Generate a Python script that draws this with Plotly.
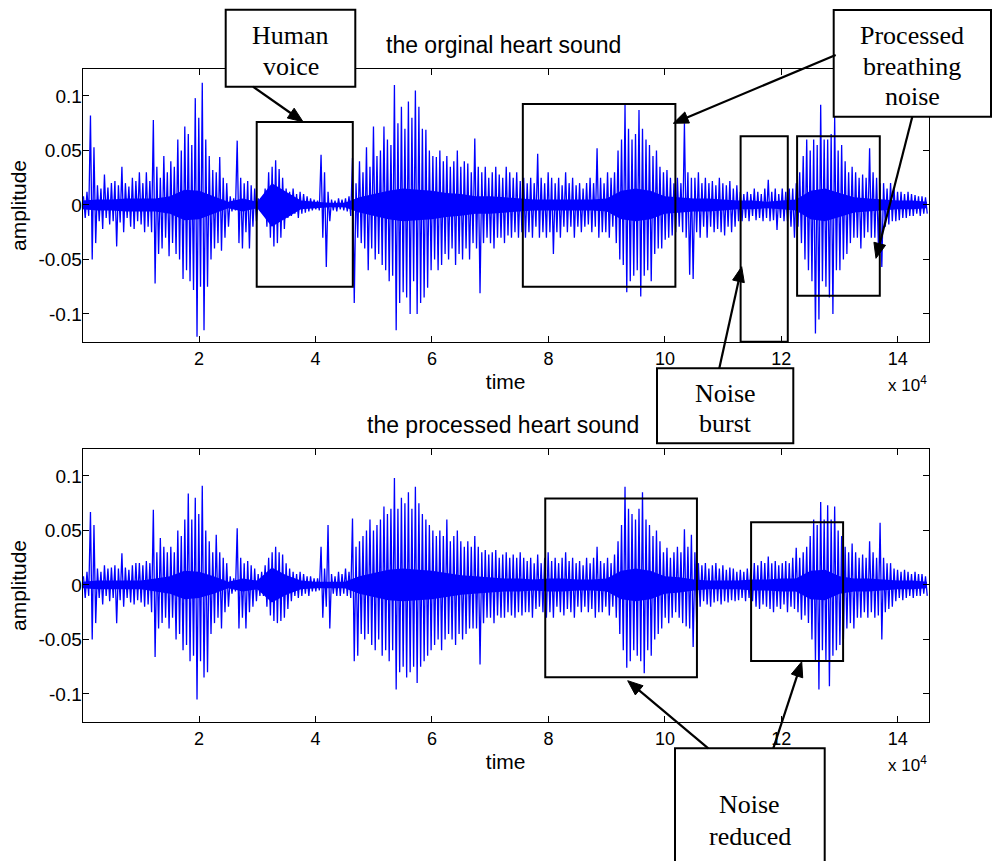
import numpy as np
import plotly.graph_objects as go

W, H = 992, 861
STEP = 600        # samples represented by one column of the waveform (max / min)
CORE_STEP = 2500  # samples between readings of the dense core band

# ---- original heart sound: per-column maxima and minima ----
orig_hi = [
    0.008, 0.012, 0.082, 0.053, 0.018, 0.015, 0.028, 0.016, 0.020, 0.022,
    0.018, 0.035, 0.020, 0.017, 0.025, 0.022, 0.030, 0.020, 0.030, 0.022,
    0.078, 0.035, 0.025, 0.045, 0.030, 0.040, 0.035, 0.060, 0.050, 0.072,
    0.065, 0.055, 0.098, 0.080, 0.112, 0.060, 0.045, 0.032, 0.030, 0.044,
    0.025, 0.020, 0.008, 0.006, 0.059, 0.025, 0.020, 0.022, 0.018, 0.015,
    0.006, 0.005, 0.015, 0.030, 0.035, 0.041, 0.033, 0.025, 0.015, 0.012,
    0.015, 0.010, 0.012, 0.010, 0.008, 0.006, 0.005, 0.004, 0.046, 0.030,
    0.012, 0.005, 0.004, 0.006, 0.005, 0.006, 0.008, 0.043, 0.020, 0.040,
    0.030, 0.053, 0.035, 0.072, 0.045, 0.050, 0.072, 0.060, 0.055, 0.110,
    0.075, 0.090, 0.070, 0.095, 0.080, 0.105, 0.090, 0.070, 0.069, 0.050,
    0.045, 0.044, 0.050, 0.040, 0.045, 0.035, 0.040, 0.050, 0.035, 0.040,
    0.038, 0.030, 0.061, 0.035, 0.030, 0.035, 0.025, 0.030, 0.035, 0.028,
    0.025, 0.035, 0.030, 0.025, 0.030, 0.022, 0.025, 0.020, 0.025, 0.020,
    0.047, 0.025, 0.020, 0.030, 0.025, 0.020, 0.025, 0.018, 0.030, 0.020,
    0.025, 0.018, 0.020, 0.015, 0.020, 0.025, 0.020, 0.052, 0.025, 0.020,
    0.030, 0.025, 0.030, 0.050, 0.060, 0.092, 0.070, 0.060, 0.065, 0.087,
    0.070, 0.060, 0.055, 0.045, 0.050, 0.035, 0.030, 0.032, 0.025, 0.020,
    0.025, 0.020, 0.075, 0.030, 0.025, 0.025, 0.030, 0.020, 0.025, 0.020,
    0.022, 0.018, 0.025, 0.020, 0.018, 0.022, 0.015, 0.018, 0.012, 0.010,
    0.012, 0.010, 0.015, 0.012, 0.010, 0.015, 0.023, 0.012, 0.015, 0.010,
    0.015, 0.012, 0.015, 0.015, 0.020, 0.030, 0.045, 0.060, 0.050, 0.060,
    0.055, 0.092, 0.060, 0.060, 0.065, 0.081, 0.050, 0.055, 0.040, 0.030,
    0.035, 0.030, 0.025, 0.028, 0.025, 0.052, 0.030, 0.025, 0.020, 0.020,
    0.015, 0.020, 0.015, 0.012, 0.012, 0.010, 0.012, 0.010, 0.009, 0.008,
    0.008, 0.007,
]
orig_lo = [
    -0.012, -0.010, -0.050, -0.035, -0.015, -0.022, -0.012, -0.018, -0.015, -0.038,
    -0.016, -0.025, -0.012, -0.020, -0.022, -0.015, -0.018, -0.025, -0.020, -0.025,
    -0.072, -0.045, -0.040, -0.030, -0.047, -0.035, -0.045, -0.050, -0.068, -0.060,
    -0.070, -0.078, -0.121, -0.075, -0.115, -0.075, -0.050, -0.040, -0.035, -0.042,
    -0.030, -0.020, -0.006, -0.005, -0.035, -0.040, -0.025, -0.040, -0.020, -0.015,
    -0.005, -0.006, -0.020, -0.030, -0.038, -0.035, -0.030, -0.022, -0.012, -0.010,
    -0.008, -0.012, -0.008, -0.007, -0.006, -0.005, -0.004, -0.005, -0.030, -0.057,
    -0.015, -0.005, -0.006, -0.004, -0.005, -0.006, -0.010, -0.090, -0.030, -0.035,
    -0.040, -0.060, -0.040, -0.050, -0.045, -0.055, -0.060, -0.070, -0.065, -0.115,
    -0.090, -0.080, -0.085, -0.100, -0.070, -0.100, -0.090, -0.085, -0.076, -0.060,
    -0.050, -0.060, -0.055, -0.045, -0.050, -0.040, -0.055, -0.045, -0.050, -0.040,
    -0.050, -0.035, -0.040, -0.081, -0.035, -0.030, -0.035, -0.040, -0.030, -0.030,
    -0.035, -0.028, -0.030, -0.025, -0.030, -0.025, -0.030, -0.025, -0.030, -0.020,
    -0.030, -0.025, -0.030, -0.025, -0.045, -0.025, -0.030, -0.020, -0.025, -0.020,
    -0.030, -0.020, -0.025, -0.020, -0.018, -0.025, -0.020, -0.030, -0.025, -0.025,
    -0.030, -0.020, -0.035, -0.050, -0.055, -0.080, -0.070, -0.065, -0.060, -0.084,
    -0.065, -0.060, -0.070, -0.045, -0.040, -0.040, -0.032, -0.030, -0.028, -0.025,
    -0.020, -0.025, -0.030, -0.064, -0.068, -0.025, -0.030, -0.020, -0.030, -0.020,
    -0.025, -0.022, -0.025, -0.028, -0.020, -0.025, -0.020, -0.015, -0.015, -0.012,
    -0.015, -0.010, -0.014, -0.012, -0.015, -0.012, -0.015, -0.014, -0.023, -0.012,
    -0.015, -0.015, -0.020, -0.030, -0.020, -0.035, -0.050, -0.060, -0.070, -0.118,
    -0.105, -0.070, -0.075, -0.085, -0.100, -0.060, -0.060, -0.050, -0.045, -0.035,
    -0.030, -0.030, -0.040, -0.030, -0.025, -0.030, -0.030, -0.035, -0.057, -0.020,
    -0.018, -0.015, -0.015, -0.014, -0.012, -0.012, -0.010, -0.010, -0.008, -0.010,
    -0.008, -0.008,
]
# half-width of the solid (dense) part of the trace, every CORE_STEP samples
orig_core = [
    0.004, 0.005, 0.005, 0.006, 0.006, 0.006, 0.008, 0.014, 0.013, 0.008,
    0.003, 0.006, 0.003, 0.020, 0.012, 0.004, 0.003, 0.002, 0.002, 0.007,
    0.010, 0.013, 0.015, 0.014, 0.013, 0.011, 0.010, 0.008, 0.008, 0.007,
    0.006, 0.005, 0.005, 0.005, 0.005, 0.005, 0.006, 0.013, 0.015, 0.013,
    0.008, 0.007, 0.006, 0.006, 0.005, 0.004, 0.004, 0.003, 0.004, 0.005,
    0.013, 0.015, 0.011, 0.007, 0.006, 0.005, 0.004, 0.004, 0.003,
]

# ---- processed heart sound ----
proc_hi = [
    0.008, 0.012, 0.067, 0.055, 0.015, 0.012, 0.018, 0.015, 0.016, 0.018,
    0.015, 0.029, 0.016, 0.014, 0.018, 0.020, 0.020, 0.018, 0.022, 0.020,
    0.069, 0.030, 0.043, 0.035, 0.030, 0.035, 0.030, 0.050, 0.045, 0.060,
    0.084, 0.060, 0.080, 0.065, 0.091, 0.050, 0.040, 0.030, 0.046, 0.030,
    0.025, 0.020, 0.008, 0.006, 0.052, 0.025, 0.020, 0.022, 0.018, 0.015,
    0.010, 0.012, 0.018, 0.025, 0.030, 0.035, 0.030, 0.028, 0.020, 0.015,
    0.012, 0.010, 0.012, 0.010, 0.008, 0.008, 0.006, 0.006, 0.035, 0.015,
    0.055, 0.010, 0.008, 0.012, 0.010, 0.015, 0.012, 0.061, 0.035, 0.040,
    0.045, 0.050, 0.060, 0.050, 0.055, 0.060, 0.072, 0.065, 0.070, 0.098,
    0.070, 0.080, 0.075, 0.085, 0.070, 0.090, 0.075, 0.065, 0.060, 0.055,
    0.050, 0.045, 0.050, 0.045, 0.060, 0.040, 0.045, 0.050, 0.040, 0.035,
    0.040, 0.035, 0.045, 0.035, 0.030, 0.032, 0.028, 0.030, 0.032, 0.025,
    0.028, 0.030, 0.025, 0.028, 0.025, 0.030, 0.025, 0.022, 0.025, 0.020,
    0.028, 0.020, 0.025, 0.030, 0.022, 0.025, 0.020, 0.025, 0.030, 0.022,
    0.025, 0.020, 0.022, 0.018, 0.025, 0.020, 0.025, 0.035, 0.022, 0.020,
    0.025, 0.020, 0.028, 0.040, 0.055, 0.090, 0.070, 0.065, 0.060, 0.070,
    0.085, 0.060, 0.055, 0.045, 0.050, 0.040, 0.030, 0.034, 0.025, 0.030,
    0.035, 0.030, 0.051, 0.035, 0.046, 0.030, 0.020, 0.018, 0.020, 0.015,
    0.018, 0.020, 0.015, 0.018, 0.014, 0.016, 0.015, 0.012, 0.014, 0.012,
    0.015, 0.015, 0.020, 0.018, 0.022, 0.020, 0.026, 0.020, 0.022, 0.018,
    0.020, 0.022, 0.020, 0.025, 0.034, 0.025, 0.030, 0.035, 0.045, 0.060,
    0.055, 0.076, 0.060, 0.073, 0.060, 0.072, 0.050, 0.045, 0.035, 0.030,
    0.038, 0.030, 0.025, 0.028, 0.025, 0.040, 0.030, 0.025, 0.057, 0.025,
    0.020, 0.020, 0.015, 0.014, 0.012, 0.014, 0.012, 0.010, 0.012, 0.010,
    0.010, 0.008,
]
proc_lo = [
    -0.012, -0.010, -0.050, -0.035, -0.012, -0.018, -0.010, -0.015, -0.012, -0.035,
    -0.014, -0.020, -0.012, -0.016, -0.018, -0.014, -0.016, -0.020, -0.018, -0.025,
    -0.066, -0.040, -0.035, -0.030, -0.040, -0.030, -0.050, -0.045, -0.060, -0.055,
    -0.070, -0.065, -0.105, -0.070, -0.085, -0.080, -0.045, -0.035, -0.030, -0.040,
    -0.025, -0.020, -0.008, -0.006, -0.040, -0.030, -0.040, -0.025, -0.020, -0.015,
    -0.010, -0.010, -0.020, -0.028, -0.033, -0.035, -0.033, -0.030, -0.022, -0.015,
    -0.010, -0.012, -0.010, -0.008, -0.010, -0.006, -0.006, -0.005, -0.030, -0.020,
    -0.040, -0.008, -0.010, -0.010, -0.008, -0.010, -0.012, -0.070, -0.065, -0.045,
    -0.050, -0.045, -0.055, -0.060, -0.050, -0.065, -0.060, -0.070, -0.060, -0.096,
    -0.080, -0.075, -0.085, -0.080, -0.075, -0.090, -0.075, -0.070, -0.065, -0.060,
    -0.055, -0.050, -0.060, -0.050, -0.045, -0.050, -0.055, -0.045, -0.050, -0.045,
    -0.040, -0.040, -0.040, -0.073, -0.035, -0.030, -0.030, -0.035, -0.028, -0.030,
    -0.030, -0.025, -0.028, -0.030, -0.025, -0.028, -0.025, -0.025, -0.030, -0.022,
    -0.020, -0.025, -0.030, -0.025, -0.030, -0.020, -0.025, -0.028, -0.022, -0.025,
    -0.030, -0.020, -0.025, -0.020, -0.025, -0.022, -0.030, -0.025, -0.025, -0.020,
    -0.028, -0.020, -0.030, -0.045, -0.060, -0.076, -0.070, -0.060, -0.065, -0.070,
    -0.081, -0.060, -0.065, -0.050, -0.045, -0.040, -0.030, -0.035, -0.030, -0.025,
    -0.030, -0.035, -0.038, -0.040, -0.057, -0.035, -0.020, -0.015, -0.018, -0.020,
    -0.016, -0.015, -0.018, -0.015, -0.016, -0.014, -0.015, -0.014, -0.012, -0.015,
    -0.012, -0.015, -0.020, -0.022, -0.018, -0.020, -0.022, -0.025, -0.020, -0.022,
    -0.018, -0.025, -0.020, -0.022, -0.025, -0.032, -0.028, -0.035, -0.050, -0.070,
    -0.096, -0.060, -0.070, -0.093, -0.065, -0.060, -0.055, -0.050, -0.040, -0.035,
    -0.040, -0.030, -0.030, -0.025, -0.030, -0.025, -0.030, -0.028, -0.050, -0.025,
    -0.022, -0.020, -0.015, -0.012, -0.014, -0.012, -0.010, -0.012, -0.010, -0.010,
    -0.008, -0.010,
]
proc_core = [
    0.003, 0.004, 0.004, 0.004, 0.004, 0.006, 0.008, 0.013, 0.012, 0.008,
    0.003, 0.006, 0.004, 0.016, 0.009, 0.004, 0.003, 0.003, 0.003, 0.008,
    0.011, 0.014, 0.015, 0.014, 0.013, 0.011, 0.009, 0.008, 0.007, 0.006,
    0.006, 0.005, 0.006, 0.006, 0.005, 0.005, 0.006, 0.013, 0.015, 0.013,
    0.008, 0.007, 0.005, 0.004, 0.004, 0.004, 0.005, 0.005, 0.006, 0.006,
    0.013, 0.014, 0.008, 0.006, 0.006, 0.005, 0.004, 0.004, 0.003,
]

assert len(orig_hi) == len(orig_lo) == len(proc_hi) == len(proc_lo) == 242
assert len(orig_core) == len(proc_core) == 59

# ---- axes ----
x_range = [0, 145300]
y_range = [-0.126, 0.125]
x_ticks = [20000, 40000, 60000, 80000, 100000, 120000, 140000]
x_tick_labels = ["2", "4", "6", "8", "10", "12", "14"]
y_ticks = [-0.1, -0.05, 0, 0.05, 0.1]
y_tick_labels = ["-0.1", "-0.05", "0", "0.05", "0.1"]
x_title = "time"
y_title = "amplitude"

# ---- highlighted regions (x0, x1, y0, y1) in data units ----
orig_regions = [
    (29900, 46400, -0.075, 0.0761),
    (75600, 101800, -0.075, 0.0927),
    (113000, 121100, -0.1255, 0.063),
    (122700, 136900, -0.0832, 0.063),
]
proc_regions = [
    (79450, 105500, -0.0847, 0.0792),
    (114800, 130600, -0.0697, 0.0575),
]

titles = ["the orginal heart sound", "the processed heart sound"]


def zigzag(hi, lo):
    n = len(hi)
    idx = np.arange(n)
    xs = np.empty(2 * n)
    ys = np.empty(2 * n)
    xs[0::2] = idx * STEP + STEP * 0.25
    xs[1::2] = idx * STEP + STEP * 0.75
    ys[0::2] = hi
    ys[1::2] = lo
    return xs, ys


def band(core):
    c = np.asarray(core)
    xs = np.arange(len(c)) * CORE_STEP
    return np.concatenate([xs, xs[::-1]]), np.concatenate([c, -c[::-1]])


def px(x):
    return x / W


def py(y):
    return 1 - y / H


SANS = "Liberation Sans, Arial, sans-serif"
SERIF = "Liberation Serif, Times New Roman, serif"
BLUE = "#0000ff"

fig = go.Figure()
for k, (hi, lo, core) in enumerate([(orig_hi, orig_lo, orig_core),
                                    (proc_hi, proc_lo, proc_core)]):
    sfx = "" if k == 0 else "2"
    bx, by = band(core)
    fig.add_trace(go.Scatter(x=bx, y=by, mode="lines", fill="toself",
                             fillcolor=BLUE, line=dict(width=0, color=BLUE),
                             xaxis="x" + sfx, yaxis="y" + sfx,
                             showlegend=False, hoverinfo="skip"))
    xs, ys = zigzag(hi, lo)
    fig.add_trace(go.Scatter(x=xs, y=ys, mode="lines",
                             line=dict(color=BLUE, width=1.3),
                             xaxis="x" + sfx, yaxis="y" + sfx,
                             showlegend=False, hoverinfo="skip"))

x_dom = [px(82.6), px(928.7)]
y_doms = [[py(342.3), py(68.7)], [py(722.3), py(448.7)]]

axis_common = dict(showline=True, linecolor="black", linewidth=1, mirror="allticks",
                   ticks="inside", ticklen=6, tickcolor="black", tickwidth=1,
                   showgrid=False, zeroline=False)
layout = dict(
    width=W, height=H, margin=dict(l=0, r=0, t=0, b=0),
    paper_bgcolor="white", plot_bgcolor="white", showlegend=False,
)
for k in range(2):
    sfx = "" if k == 0 else "2"
    layout["xaxis" + sfx] = dict(axis_common, domain=x_dom, range=x_range,
                                 tickvals=x_ticks, ticktext=x_tick_labels,
                                 tickfont=dict(family=SANS, size=18, color="black"),
                                 title=dict(text=x_title, standoff=6,
                                            font=dict(family=SANS, size=21, color="black")),
                                 anchor="y" + sfx)
    layout["yaxis" + sfx] = dict(axis_common, domain=y_doms[k], range=y_range,
                                 tickvals=y_ticks, ticktext=y_tick_labels,
                                 tickfont=dict(family=SANS, size=19, color="black"),
                                 ticklabelstandoff=-4,
                                 title=dict(text=y_title, standoff=6,
                                            font=dict(family=SANS, size=21, color="black")),
                                 anchor="x" + sfx)
fig.update_layout(**layout)

shapes = []
for k, regs in enumerate([orig_regions, proc_regions]):
    sfx = "" if k == 0 else "2"
    for (x0, x1, y0, y1) in regs:
        shapes.append(dict(type="rect", xref="x" + sfx, yref="y" + sfx,
                           x0=x0, x1=x1, y0=y0, y1=y1, layer="above",
                           line=dict(color="black", width=2)))

# callout boxes (page pixels: left, top, right, bottom)
callouts = [
    ((225.7, 9.7, 355.3, 86.7), ["Human", "voice"], [35.5, 66.5]),
    ((833.7, 10.0, 991.0, 116.7), ["Processed", "breathing", "noise"], [36.0, 66.5, 96.5]),
    ((657.0, 368.3, 793.3, 443.3), ["Noise", "burst"], [393.0, 424.0]),
    ((675.0, 748.3, 824.7, 875.0), ["Noise", "reduced"], [804.5, 836.0]),
]
annotations = []
for (l, t, r, b), lines, ys_ in callouts:
    shapes.append(dict(type="rect", xref="paper", yref="paper",
                       x0=px(l), x1=px(r), y0=py(b), y1=py(t), layer="above",
                       fillcolor="white", line=dict(color="black", width=2)))
    for txt, yy in zip(lines, ys_):
        annotations.append(dict(text=txt, xref="paper", yref="paper",
                                x=px((l + r) / 2), y=py(yy), xanchor="center",
                                yanchor="middle", showarrow=False,
                                font=dict(family=SERIF, size=26, color="black")))

# arrows: (tail_x, tail_y, tip_x, tip_y) in page pixels, drawn as line + filled head
arrows = [
    (253.0, 86.7, 303.0, 121.7),
    (835.7, 55.0, 673.3, 123.3),
    (912.3, 116.7, 876.0, 258.3),
    (719.3, 368.3, 741.7, 266.7),
    (708.3, 748.3, 627.7, 680.7),
    (773.3, 748.3, 801.7, 661.7),
]
HEAD_LEN, HEAD_HALF = 15.0, 6.0
for (tx, ty, hx, hy) in arrows:
    dx, dy = hx - tx, hy - ty
    L = (dx * dx + dy * dy) ** 0.5
    ux, uy = dx / L, dy / L
    bx, by = hx - ux * HEAD_LEN, hy - uy * HEAD_LEN
    nx, ny = -uy, ux
    shapes.append(dict(type="line", xref="paper", yref="paper", layer="above",
                       x0=px(tx), y0=py(ty), x1=px(bx + ux * 2), y1=py(by + uy * 2),
                       line=dict(color="black", width=2.2)))
    p1 = (bx + nx * HEAD_HALF, by + ny * HEAD_HALF)
    p2 = (bx - nx * HEAD_HALF, by - ny * HEAD_HALF)
    path = "M {:.5f},{:.5f} L {:.5f},{:.5f} L {:.5f},{:.5f} Z".format(
        px(hx), py(hy), px(p1[0]), py(p1[1]), px(p2[0]), py(p2[1]))
    shapes.append(dict(type="path", xref="paper", yref="paper", layer="above",
                       path=path, fillcolor="black", line=dict(color="black", width=1)))

# titles and exponent labels
for k in range(2):
    top = 68.7 if k == 0 else 448.7
    bot = 342.3 if k == 0 else 722.3
    annotations.append(dict(text=titles[k], xref="paper", yref="paper",
                            x=px(503), y=py(top - 23.5), xanchor="center", yanchor="middle",
                            showarrow=False, font=dict(family=SANS, size=23, color="black")))
    annotations.append(dict(text="x 10<sup>4</sup>", xref="paper", yref="paper",
                            x=px(929), y=py(bot + 42), xanchor="right", yanchor="middle",
                            showarrow=False, font=dict(family=SANS, size=17, color="black")))

fig.update_layout(shapes=shapes, annotations=annotations)
fig.write_html("out.html")
